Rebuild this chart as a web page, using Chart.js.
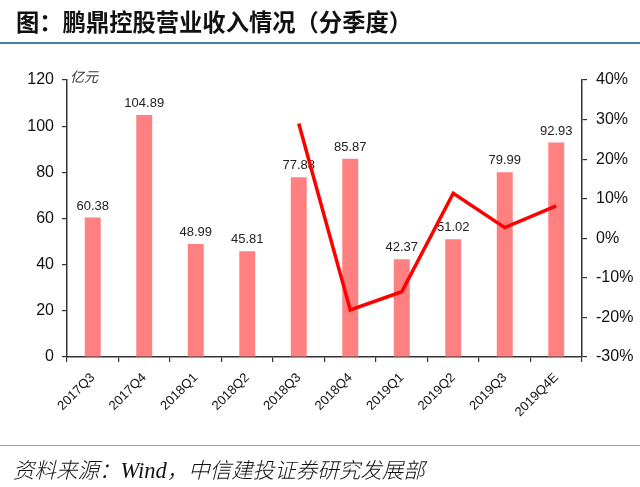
<!DOCTYPE html>
<html>
<head>
<meta charset="utf-8">
<script src="https://cdn.jsdelivr.net/npm/chart.js@4.4.1/dist/chart.umd.min.js"></script>
<style>
  html, body { margin:0; padding:0; background:#fff; }
  #wrap { position:relative; width:640px; height:487px; overflow:hidden; background:#fff; }
  #title { position:absolute; left:16px; top:4px; font-family:"Noto Sans CJK SC","Noto Sans",sans-serif; font-weight:700; font-size:23.3px; color:#111; white-space:nowrap; }
  #topline { position:absolute; left:0; top:42px; width:640px; height:2px; background:#4a7ab0; }
  #botline { position:absolute; left:0; top:445px; width:640px; height:1px; background:#7fa7c9; }
  #foot { position:absolute; left:13px; top:453px; font-family:"Noto Sans CJK SC",sans-serif; font-weight:300; font-style:italic; font-size:21.5px; color:#111; white-space:nowrap; }
  #foot .w { font-family:"Liberation Serif",serif; font-style:italic; font-size:22.5px; }
  canvas { position:absolute; left:0; top:0; }
</style>
</head>
<body>
<div id="wrap">
  <canvas id="c" width="640" height="487"></canvas>
  <div id="title">图：鹏鼎控股营业收入情况（分季度）</div>
  <div id="topline"></div>
  <div id="botline"></div>
  <div id="foot">资料来源：<span class="w">Wind</span>，中信建投证券研究发展部</div>
</div>
<script>
const categories = ["2017Q3","2017Q4","2018Q1","2018Q2","2018Q3","2018Q4","2019Q1","2019Q2","2019Q3","2019Q4E"];
const revenue = [60.38, 104.89, 48.99, 45.81, 77.88, 85.87, 42.37, 51.02, 79.99, 92.93];
const yoyGrowth = [null, null, null, null, 29.0, -18.1, -13.5, 11.4, 2.7, 8.2];
const leftTicks = [0, 20, 40, 60, 80, 100, 120];
const rightTicks = [-30, -20, -10, 0, 10, 20, 30, 40];
const unitLabel = "亿元";

const barLabels = {
  id: 'barLabels',
  afterDatasetDraw(chart, args) {
    if (args.index !== 1) return;
    const ctx = chart.ctx;
    ctx.save();
    ctx.font = '13px "Liberation Sans", Arial, sans-serif';
    ctx.fillStyle = '#222';
    ctx.textAlign = 'center';
    ctx.textBaseline = 'bottom';
    args.meta.data.forEach((bar, i) => {
      ctx.fillText(revenue[i].toFixed(2), bar.x, bar.y - 5);
    });
    ctx.restore();
  },
  afterDraw(chart) {
    const ctx = chart.ctx;
    ctx.save();
    ctx.font = 'italic 14px "Noto Sans CJK SC", sans-serif';
    ctx.fillStyle = '#333';
    ctx.textAlign = 'left';
    ctx.textBaseline = 'middle';
    ctx.fillText(unitLabel, chart.chartArea.left + 3, chart.chartArea.top - 3);
    ctx.restore();
  }
};

const axisColor = '#333';
new Chart(document.getElementById('c'), {
  data: {
    labels: categories,
    datasets: [
      {
        type: 'line',
        data: yoyGrowth,
        yAxisID: 'y1',
        borderColor: '#ff0000',
        borderWidth: 3.5,
        pointRadius: 0,
        tension: 0,
        spanGaps: false,
        order: 1
      },
      {
        type: 'bar',
        data: revenue,
        yAxisID: 'y',
        backgroundColor: '#ff8080',
        barPercentage: 0.31,
        categoryPercentage: 1.0,
        order: 2
      }
    ]
  },
  options: {
    responsive: false,
    animation: false,
    devicePixelRatio: 1,
    layout: { padding: { top: 80, left: 0, right: 0, bottom: 0 } },
    plugins: { legend: { display: false }, tooltip: { enabled: false }, title: { display: false } },
    scales: {
      x: {
        offset: true,
        grid: { display: true, drawOnChartArea: false, drawTicks: true, tickLength: 5, color: axisColor, lineWidth: 1.2, offset: true },
        border: { display: true, color: axisColor, width: 1.5 },
        ticks: { color: '#111', font: { family: '"Liberation Sans", Arial, sans-serif', size: 13 }, maxRotation: 45, minRotation: 45, padding: 8, autoSkip: false },
        afterFit(s) { s.height = 130; }
      },
      y: {
        position: 'left',
        min: 0, max: 120,
        afterBuildTicks(s) { s.ticks = leftTicks.map(v => ({ value: v })); },
        grid: { display: true, drawOnChartArea: false, drawTicks: true, tickLength: 5, color: axisColor, lineWidth: 1.2 },
        border: { display: true, color: axisColor, width: 1.5 },
        ticks: { color: '#111', font: { family: '"Liberation Sans", Arial, sans-serif', size: 16 }, padding: 8 },
        afterFit(s) { s.width = 67; }
      },
      y1: {
        position: 'right',
        min: -30, max: 40,
        afterBuildTicks(s) { s.ticks = rightTicks.map(v => ({ value: v })); },
        grid: { display: true, drawOnChartArea: false, drawTicks: true, tickLength: 5, color: axisColor, lineWidth: 1.2 },
        border: { display: true, color: axisColor, width: 1.5 },
        ticks: { color: '#111', font: { family: '"Liberation Sans", Arial, sans-serif', size: 16 }, padding: 9, callback: v => v + '%' },
        afterFit(s) { s.width = 58; }
      }
    }
  },
  plugins: [barLabels]
});
</script>
</body>
</html>
